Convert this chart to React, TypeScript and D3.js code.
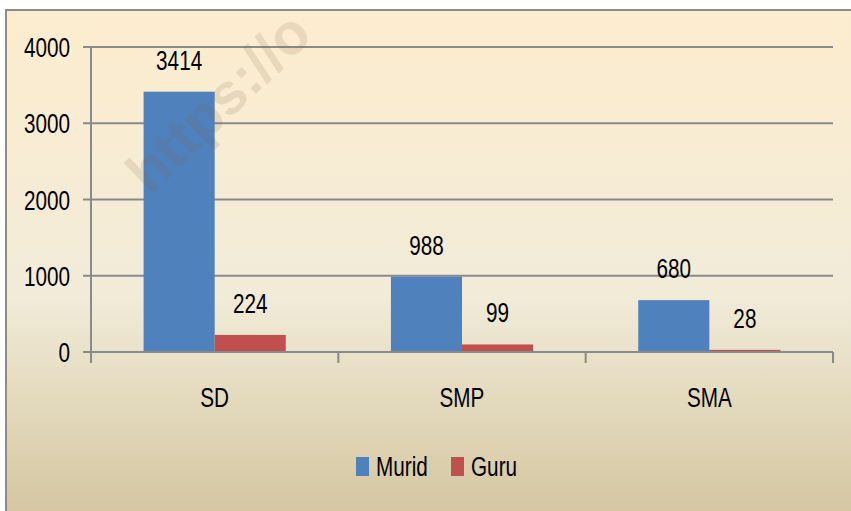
import React from "react";
import * as d3 from "d3";

const categories = ["SD", "SMP", "SMA"];
const series = ["Murid", "Guru"];
const murid = [3414, 988, 680];
const guru = [224, 99, 28];
const yTicks = [0, 1000, 2000, 3000, 4000];
const colors = ["#4F81BD", "#C0504D"];

export default function App() {
  const width = 851;
  const height = 511;
  const plot = { left: 91, right: 833, top: 47, bottom: 352 };
  const font = "'Liberation Sans', Arial, sans-serif";
  const sx = 0.74; // narrow the glyphs a bit, the original face is condensed

  const x0 = d3.scaleBand<string>().domain(categories).range([plot.left, plot.right]);
  const x1 = d3.scaleBand<string>().domain(series).range([0, x0.bandwidth()]).paddingOuter(0.74);
  const y = d3.scaleLinear().domain([0, 4000]).range([plot.bottom, plot.top]);

  const rows = categories.map((c, i) => ({ cat: c, vals: [murid[i], guru[i]] }));

  const label = (tx: number, ty: number, s: string, anchor = "middle") => (
    <text
      transform={`translate(${tx},${ty}) scale(${sx},1)`}
      textAnchor={anchor}
      fontFamily={font}
      fontSize={28}
      fill="#000"
    >
      {s}
    </text>
  );

  return (
    <svg width={width} height={height} style={{ position: "absolute", left: 0, top: 0 }}>
      <defs>
        <linearGradient id="bg" x1="0" y1="0" x2="0" y2="1">
          <stop offset="0%" stopColor="#FDEDCF" />
          <stop offset="55%" stopColor="#F1EBD8" />
          <stop offset="100%" stopColor="#D2C39C" />
        </linearGradient>
      </defs>
      <rect x={0} y={0} width={width} height={height} fill="#fff" />
      <rect x={6} y={10} width={width + 10} height={height + 10} fill="url(#bg)" stroke="#8C8C8C" strokeWidth={2} />

      {/* gridlines */}
      {yTicks.map((t) => (
        <line key={t} x1={plot.left - 8} x2={plot.right} y1={y(t)} y2={y(t)} stroke="#8A8A8A" strokeWidth={2} />
      ))}
      <line x1={plot.left} x2={plot.left} y1={plot.top} y2={plot.bottom + 11} stroke="#8A8A8A" strokeWidth={2} />
      {categories.map((c) => (
        <line key={c} x1={x0(c)! + x0.bandwidth()} x2={x0(c)! + x0.bandwidth()} y1={plot.bottom} y2={plot.bottom + 11} stroke="#8A8A8A" strokeWidth={2} />
      ))}

      {/* bars */}
      {rows.map((r) =>
        r.vals.map((v, j) => (
          <rect
            key={r.cat + j}
            x={x0(r.cat)! + x1(series[j])!}
            y={y(v)}
            width={x1.bandwidth()}
            height={y(0) - y(v)}
            fill={colors[j]}
          />
        ))
      )}
      <line x1={plot.left} x2={plot.right} y1={y(0)} y2={y(0)} stroke="#8A8A8A" strokeWidth={2} />

      {/* value labels */}
      {rows.map((r) =>
        r.vals.map((v, j) => (
          <g key={"l" + r.cat + j}>{label(x0(r.cat)! + x1(series[j])! + x1.bandwidth() / 2, y(v) - 22, String(v))}</g>
        ))
      )}

      {/* y tick labels */}
      {yTicks.map((t) => (
        <g key={"t" + t}>{label(70, y(t) + 10, String(t), "end")}</g>
      ))}

      {/* category labels */}
      {categories.map((c) => (
        <g key={"c" + c}>{label(x0(c)! + x0.bandwidth() / 2, 407, c)}</g>
      ))}

      {/* legend */}
      {series.map((s, i) => {
        const lx = [356, 451][i];
        return (
          <g key={s}>
            <rect x={lx} y={457} width={13} height={19} fill={colors[i]} />
            {label(lx + 20, 476, s, "start")}
          </g>
        );
      })}

      {/* watermark, drawn over the bars */}
      <text
        transform="translate(150,196) rotate(-44)"
        fontFamily={font}
        fontSize={58}
        fontWeight="bold"
        fill="#7a6040"
        opacity={0.14}
      >
        https://o
      </text>
    </svg>
  );
}
